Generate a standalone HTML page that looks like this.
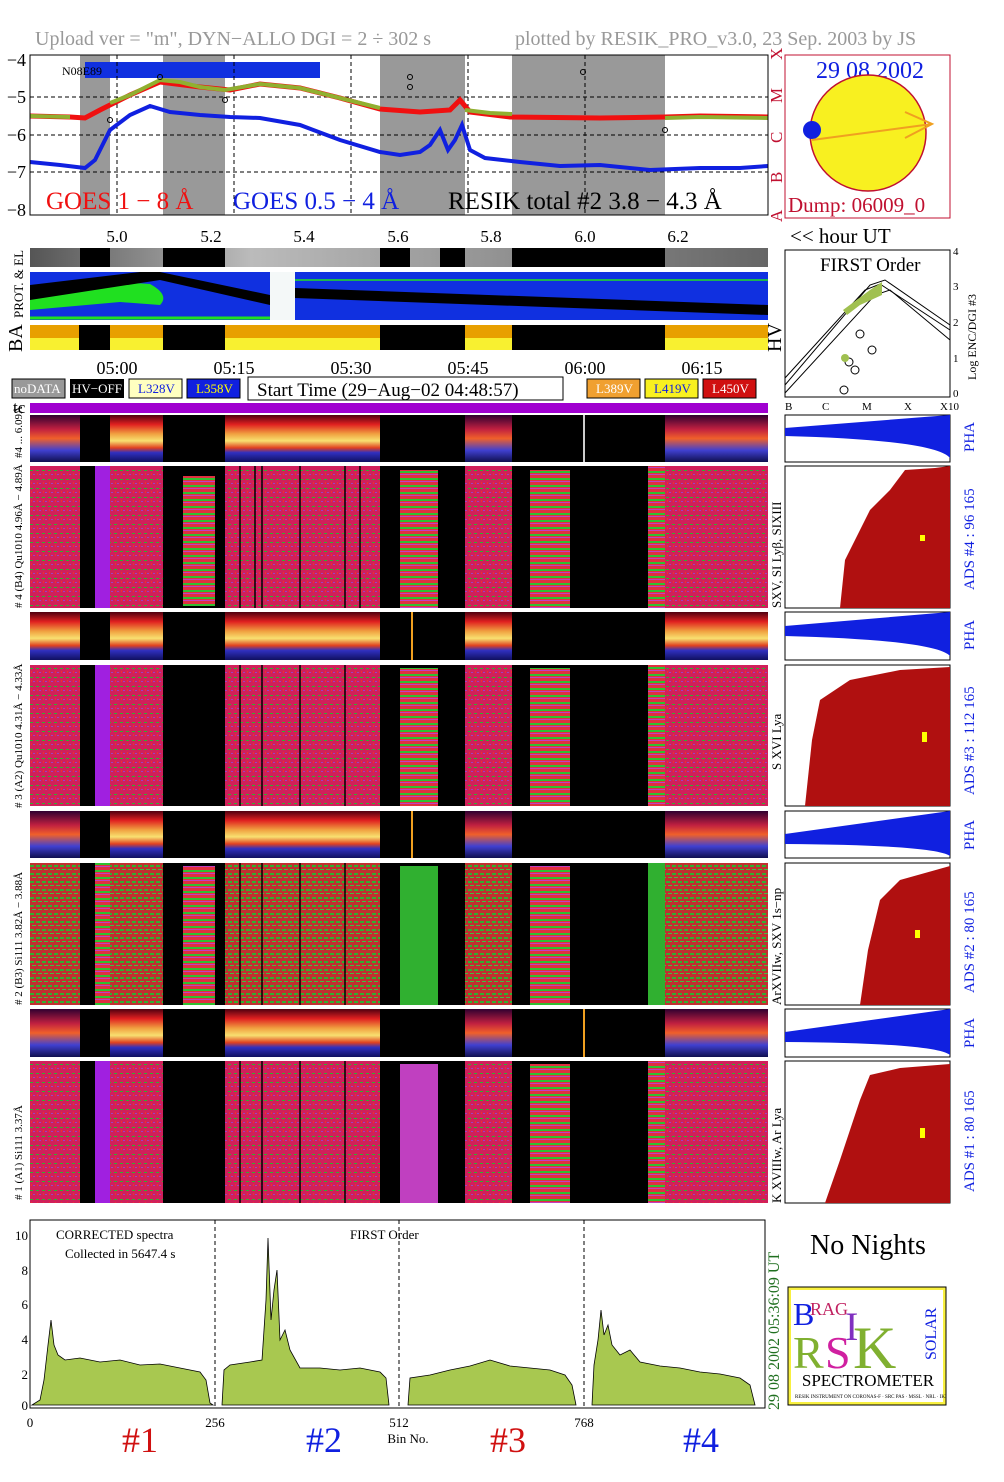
<!DOCTYPE html>
<html><head><meta charset="utf-8"><style>
body{margin:0;background:#fff;}
svg text{font-family:"Liberation Serif",serif;}
</style></head><body>
<svg width="1004" height="1477" viewBox="0 0 1004 1477" xmlns="http://www.w3.org/2000/svg">
<defs>
<linearGradient id="pha" x1="0" y1="0" x2="0" y2="1">
<stop offset="0" stop-color="#500010"/><stop offset="0.2" stop-color="#e02020"/><stop offset="0.4" stop-color="#f0a040"/><stop offset="0.55" stop-color="#f8e070"/><stop offset="0.7" stop-color="#e04020"/><stop offset="0.8" stop-color="#3030c0"/><stop offset="1" stop-color="#101060"/>
</linearGradient>
<linearGradient id="phab" x1="0" y1="0" x2="0" y2="1">
<stop offset="0" stop-color="#300030"/><stop offset="0.3" stop-color="#c02040"/><stop offset="0.5" stop-color="#f0602a"/><stop offset="0.75" stop-color="#4040d0"/><stop offset="1" stop-color="#101050"/>
</linearGradient>
<linearGradient id="gray" x1="0" y1="0" x2="1" y2="0">
<stop offset="0" stop-color="#555"/><stop offset="0.3" stop-color="#bbb"/><stop offset="1" stop-color="#666"/>
</linearGradient>
<pattern id="spec" width="6" height="9" patternUnits="userSpaceOnUse">
<rect width="6" height="9" fill="#d0205a"/><rect x="0" y="2" width="3" height="1" fill="#30b030"/><rect x="3" y="6" width="2" height="1" fill="#a040c0"/><rect x="1" y="5" width="1" height="2" fill="#f03030"/>
</pattern>
<pattern id="specg" width="6" height="8" patternUnits="userSpaceOnUse">
<rect width="6" height="8" fill="#c03030"/><rect x="0" y="1" width="4" height="2" fill="#30b030"/><rect x="2" y="5" width="4" height="1" fill="#40c040"/>
</pattern>
<pattern id="stripe" width="2" height="7" patternUnits="userSpaceOnUse">
<rect width="2" height="7" fill="#e03040"/><rect y="2" width="2" height="2" fill="#30c030"/><rect y="5" width="2" height="1" fill="#c040c0"/>
</pattern>
</defs>
<rect width="1004" height="1477" fill="#fff"/>
<text x="35" y="45" font-size="20" fill="#999">Upload ver = "m", DYN−ALLO DGI =   2 ÷ 302 s</text>
<text x="515" y="45" font-size="20" fill="#999">plotted by RESIK_PRO_v3.0, 23 Sep. 2003 by JS</text>
<g>
<rect x="80" y="55" width="30" height="160" fill="#999"/>
<rect x="163" y="55" width="62" height="160" fill="#999"/>
<rect x="380" y="55" width="85" height="160" fill="#999"/>
<rect x="512" y="55" width="153" height="160" fill="#999"/>
<rect x="85" y="62" width="235" height="16" fill="#1030e0"/>
<text x="62" y="75" font-size="12">N08E89</text>
<g stroke="#000" stroke-dasharray="4,3" stroke-width="1">
<line x1="30" y1="97" x2="768" y2="97"/><line x1="30" y1="135" x2="768" y2="135"/><line x1="30" y1="172" x2="768" y2="172"/>
<line x1="117" y1="55" x2="117" y2="215"/><line x1="351" y1="55" x2="351" y2="215"/><line x1="585" y1="55" x2="585" y2="215"/>
<line x1="234" y1="55" x2="234" y2="215"/><line x1="468" y1="55" x2="468" y2="215"/>
</g>
<polyline fill="none" stroke="#f01010" stroke-width="5" points="30,116 70,117 85,118 100,110 130,95 160,82 200,87 230,90 260,84 300,88 340,98 380,109 420,112 450,110 460,100 470,112 510,117 600,118 665,117 700,116 768,117"/>
<polyline fill="none" stroke="#90b030" stroke-width="4" points="30,116 70,117"/>
<polyline fill="none" stroke="#90b030" stroke-width="4" points="110,103 130,95 160,80 180,82 200,87 225,90 260,84 300,88 340,98 380,108"/>
<polyline fill="none" stroke="#90b030" stroke-width="4" points="465,110 490,113 512,114"/>
<polyline fill="none" stroke="#90b030" stroke-width="4" points="665,118 700,117 768,118"/>
<polyline fill="none" stroke="#1020e0" stroke-width="4" points="30,162 60,165 85,168 95,160 110,130 130,115 150,106 170,112 200,115 230,117 260,118 300,125 340,140 380,152 400,155 420,152 430,145 440,130 448,150 455,140 462,125 470,150 485,158 520,162 560,166 600,165 650,170 700,168 740,168 768,166"/>
<g fill="none" stroke="#000" stroke-width="1"><circle cx="110" cy="120" r="2.5"/><circle cx="160" cy="77" r="2.5"/><circle cx="225" cy="100" r="2.5"/><circle cx="410" cy="77" r="2.5"/><circle cx="410" cy="87" r="2.5"/><circle cx="583" cy="72" r="2.5"/><circle cx="665" cy="130" r="2.5"/></g>
<rect x="30" y="55" width="738" height="160" fill="none" stroke="#000"/>
<g font-size="18" text-anchor="end"><text x="26" y="66">−4</text><text x="26" y="103">−5</text><text x="26" y="141">−6</text><text x="26" y="178">−7</text><text x="26" y="216">−8</text></g>
<text x="46" y="209" font-size="25" fill="#f01010">GOES 1 − 8 Å</text>
<text x="233" y="209" font-size="25" fill="#1020e0">GOES 0.5 − 4 Å</text>
<text x="448" y="209" font-size="25">RESIK total #2  3.8 − 4.3 Å</text>
<g font-size="17" fill="#c01030" transform="translate(782,0)"><text transform="translate(0,60) rotate(-90)">X</text><text transform="translate(0,103) rotate(-90)">M</text><text transform="translate(0,143) rotate(-90)">C</text><text transform="translate(0,183) rotate(-90)">B</text><text transform="translate(0,222) rotate(-90)">A</text></g>
</g>
<g font-size="17" text-anchor="middle"><text x="117" y="242">5.0</text><text x="211" y="242">5.2</text><text x="304" y="242">5.4</text><text x="398" y="242">5.6</text><text x="491" y="242">5.8</text><text x="585" y="242">6.0</text><text x="678" y="242">6.2</text></g>
<rect x="785" y="55" width="165" height="163" fill="none" stroke="#c01030"/>
<text x="870" y="78" font-size="24" fill="#1020e0" text-anchor="middle">29 08 2002</text>
<circle cx="868" cy="133" r="58" fill="#f8f020" stroke="#c01030" stroke-width="1.5"/>
<circle cx="812" cy="130" r="9" fill="#1020e0"/>
<line x1="812" y1="140" x2="932" y2="124" stroke="#f0a020" stroke-width="2"/>
<polyline points="905,112 932,124 905,138" fill="none" stroke="#f0a020" stroke-width="2"/>
<text x="788" y="212" font-size="21" fill="#c01030">Dump: 06009_0</text>
<text x="790" y="243" font-size="21">&lt;&lt; hour UT</text>
<rect x="30" y="248" width="738" height="19" fill="url(#gray)"/>
<g fill="#000"><rect x="80" y="248" width="30" height="19"/><rect x="163" y="248" width="62" height="19"/><rect x="380" y="248" width="30" height="19"/><rect x="440" y="248" width="25" height="19"/><rect x="512" y="248" width="153" height="19"/></g>
<rect x="30" y="272" width="738" height="48" fill="#1030e0"/>
<rect x="270" y="272" width="25" height="48" fill="#f4f8f8"/>
<path d="M30,300 Q60,285 120,282 L150,284 Q170,295 160,305 L120,302 L30,310 Z" fill="#20e020"/>
<polygon points="30,285 140,272 160,272 270,295 270,305 160,280 30,300" fill="#000"/>
<polygon points="295,288 768,305 768,315 295,298" fill="#000"/>
<line x1="295" y1="280" x2="768" y2="280" stroke="#20e020" stroke-width="1.5"/>
<line x1="30" y1="318" x2="270" y2="318" stroke="#20e020" stroke-width="3"/>
<text transform="translate(23,318) rotate(-90)" font-size="13">PROT. &amp; EL</text>
<rect x="30" y="325" width="738" height="13" fill="#e8a000"/><rect x="30" y="338" width="738" height="12" fill="#f8f030"/>
<g fill="#000"><rect x="79" y="325" width="31" height="25"/><rect x="163" y="325" width="62" height="25"/><rect x="380" y="325" width="85" height="25"/><rect x="512" y="325" width="153" height="25"/></g>
<text transform="translate(22,352) rotate(-90)" font-size="20">BA</text>
<text transform="translate(781,352) rotate(-90)" font-size="20">HV</text>
<g font-size="18" text-anchor="middle"><text x="117" y="374">05:00</text><text x="234" y="374">05:15</text><text x="351" y="374">05:30</text><text x="468" y="374">05:45</text><text x="585" y="374">06:00</text><text x="702" y="374">06:15</text></g>
<rect x="12" y="379" width="53" height="19" fill="#999" stroke="#000"/><text x="14" y="393" font-size="13" fill="#fff" font-family="Liberation Sans">noDATA</text>
<rect x="70" y="379" width="54" height="19" fill="#000"/><text x="72" y="393" font-size="13" fill="#fff" font-family="Liberation Sans">HV−OFF</text>
<rect x="129" y="379" width="53" height="19" fill="#ffffc0" stroke="#000"/><text x="138" y="393" font-size="13" fill="#1020e0">L328V</text>
<rect x="187" y="379" width="53" height="19" fill="#1020e0" stroke="#000"/><text x="196" y="393" font-size="13" fill="#ff0">L358V</text>
<rect x="248" y="377" width="315" height="23" fill="#fff" stroke="#000"/><text x="257" y="396" font-size="19">Start Time (29−Aug−02 04:48:57)</text>
<rect x="587" y="379" width="53" height="19" fill="#f0a030" stroke="#000"/><text x="596" y="393" font-size="13" fill="#fff">L389V</text>
<rect x="645" y="379" width="53" height="19" fill="#f8f020" stroke="#000"/><text x="654" y="393" font-size="13" fill="#1020e0">L419V</text>
<rect x="703" y="379" width="53" height="19" fill="#d01010" stroke="#000"/><text x="712" y="393" font-size="13" fill="#fff">L450V</text>
<text x="13" y="413" font-size="17">tc</text>
<rect x="30" y="403" width="738" height="10" fill="#a000d0"/>
<g>
<rect x="30" y="415" width="738" height="47" fill="#000"/>
<rect x="30" y="415" width="50" height="47" fill="url(#phab)"/><rect x="110" y="415" width="53" height="47" fill="url(#pha)"/><rect x="225" y="415" width="155" height="47" fill="url(#pha)"/><rect x="465" y="415" width="47" height="47" fill="url(#phab)"/><rect x="665" y="415" width="103" height="47" fill="url(#phab)"/><rect x="583" y="415" width="2" height="47" fill="#ccc"/>
</g>
<g>
<rect x="30" y="466" width="738" height="142" fill="#000"/>
<rect x="30" y="466" width="50" height="142" fill="url(#spec)"/><rect x="95" y="466" width="15" height="142" fill="#a020e0"/><rect x="110" y="466" width="53" height="142" fill="url(#spec)"/><rect x="183" y="476" width="32" height="130" fill="url(#stripe)"/><rect x="225" y="466" width="155" height="142" fill="url(#spec)"/><rect x="400" y="470" width="38" height="138" fill="url(#stripe)"/><rect x="465" y="466" width="47" height="142" fill="url(#spec)"/><rect x="530" y="470" width="40" height="138" fill="url(#stripe)"/><rect x="648" y="466" width="17" height="142" fill="url(#stripe)"/><rect x="665" y="466" width="103" height="142" fill="url(#spec)"/>
<g stroke="#000" stroke-width="1.5"><line x1="240" y1="466" x2="240" y2="608"/><line x1="255" y1="466" x2="255" y2="608"/><line x1="262" y1="466" x2="262" y2="608"/><line x1="300" y1="466" x2="300" y2="608"/><line x1="345" y1="466" x2="345" y2="608"/><line x1="360" y1="466" x2="360" y2="608"/></g>
</g>
<g>
<rect x="30" y="612" width="738" height="48" fill="#000"/>
<rect x="30" y="612" width="50" height="48" fill="url(#pha)"/><rect x="110" y="612" width="53" height="48" fill="url(#pha)"/><rect x="225" y="612" width="155" height="48" fill="url(#pha)"/><rect x="411" y="612" width="2" height="48" fill="#f0a020"/><rect x="465" y="612" width="47" height="48" fill="url(#pha)"/><rect x="665" y="612" width="103" height="48" fill="url(#pha)"/>
</g>
<g>
<rect x="30" y="665" width="738" height="141" fill="#000"/>
<rect x="30" y="665" width="50" height="141" fill="url(#spec)"/><rect x="95" y="665" width="15" height="141" fill="#a020e0"/><rect x="110" y="665" width="53" height="141" fill="url(#spec)"/><rect x="225" y="665" width="155" height="141" fill="url(#spec)"/><rect x="400" y="668" width="38" height="138" fill="url(#stripe)"/><rect x="465" y="665" width="47" height="141" fill="url(#spec)"/><rect x="530" y="668" width="40" height="138" fill="url(#stripe)"/><rect x="648" y="665" width="17" height="141" fill="url(#stripe)"/><rect x="665" y="665" width="103" height="141" fill="url(#spec)"/>
<g stroke="#000" stroke-width="1.5"><line x1="240" y1="665" x2="240" y2="806"/><line x1="262" y1="665" x2="262" y2="806"/><line x1="300" y1="665" x2="300" y2="806"/><line x1="345" y1="665" x2="345" y2="806"/></g>
</g>
<g>
<rect x="30" y="811" width="738" height="47" fill="#000"/>
<rect x="30" y="811" width="50" height="47" fill="url(#phab)"/><rect x="110" y="811" width="53" height="47" fill="url(#pha)"/><rect x="225" y="811" width="155" height="47" fill="url(#pha)"/><rect x="411" y="811" width="2" height="47" fill="#f0a020"/><rect x="465" y="811" width="47" height="47" fill="url(#phab)"/><rect x="665" y="811" width="103" height="47" fill="url(#phab)"/>
</g>
<g>
<rect x="30" y="863" width="738" height="142" fill="#000"/>
<rect x="30" y="863" width="50" height="142" fill="url(#specg)"/><rect x="95" y="863" width="15" height="142" fill="url(#stripe)"/><rect x="110" y="863" width="53" height="142" fill="url(#specg)"/><rect x="183" y="866" width="32" height="139" fill="url(#stripe)"/><rect x="225" y="863" width="155" height="142" fill="url(#specg)"/><rect x="400" y="866" width="38" height="139" fill="#30b030"/><rect x="465" y="863" width="47" height="142" fill="url(#specg)"/><rect x="530" y="866" width="40" height="139" fill="url(#stripe)"/><rect x="648" y="863" width="17" height="142" fill="#30b030"/><rect x="665" y="863" width="103" height="142" fill="url(#specg)"/>
<g stroke="#000" stroke-width="1.5"><line x1="240" y1="863" x2="240" y2="1005"/><line x1="262" y1="863" x2="262" y2="1005"/><line x1="300" y1="863" x2="300" y2="1005"/><line x1="345" y1="863" x2="345" y2="1005"/></g>
</g>
<g>
<rect x="30" y="1009" width="738" height="48" fill="#000"/>
<rect x="30" y="1009" width="50" height="48" fill="url(#phab)"/><rect x="110" y="1009" width="53" height="48" fill="url(#pha)"/><rect x="225" y="1009" width="155" height="48" fill="url(#pha)"/><rect x="583" y="1009" width="2" height="48" fill="#f0a020"/><rect x="465" y="1009" width="47" height="48" fill="url(#phab)"/><rect x="665" y="1009" width="103" height="48" fill="url(#phab)"/>
</g>
<g>
<rect x="30" y="1061" width="738" height="142" fill="#000"/>
<rect x="30" y="1061" width="50" height="142" fill="url(#spec)"/><rect x="95" y="1061" width="15" height="142" fill="#a020e0"/><rect x="110" y="1061" width="53" height="142" fill="url(#spec)"/><rect x="225" y="1061" width="155" height="142" fill="url(#spec)"/><rect x="400" y="1064" width="38" height="139" fill="#c040c0"/><rect x="465" y="1061" width="47" height="142" fill="url(#spec)"/><rect x="530" y="1064" width="40" height="139" fill="url(#stripe)"/><rect x="648" y="1061" width="17" height="142" fill="url(#stripe)"/><rect x="665" y="1061" width="103" height="142" fill="url(#spec)"/>
<g stroke="#000" stroke-width="1.5"><line x1="240" y1="1061" x2="240" y2="1203"/><line x1="262" y1="1061" x2="262" y2="1203"/><line x1="300" y1="1061" x2="300" y2="1203"/><line x1="345" y1="1061" x2="345" y2="1203"/></g>
</g>
<g font-size="11">
<text transform="translate(22,458) rotate(-90)">#4 ... 6.09Å</text>
<text transform="translate(22,608) rotate(-90)"># 4 (B4) Qu1010 4.96Å − 4.89Å</text>
<text transform="translate(22,808) rotate(-90)"># 3 (A2) Qu1010 4.31Å − 4.33Å</text>
<text transform="translate(22,1005) rotate(-90)"># 2 (B3) Si111 3.82Å − 3.88Å</text>
<text transform="translate(22,1200) rotate(-90)"># 1 (A1) Si111 3.37Å</text>
</g>
<rect x="785" y="250" width="165" height="147" fill="none" stroke="#000"/>
<text x="820" y="271" font-size="19">FIRST Order</text>
<g fill="none" stroke="#000" stroke-width="1">
<polyline points="785,385 870,285 885,280 950,325"/><polyline points="785,378 865,290 880,284 950,330"/><polyline points="785,393 875,295 890,290 950,340"/>
<circle cx="860" cy="334" r="4"/><circle cx="872" cy="350" r="4"/><circle cx="849" cy="362" r="4"/><circle cx="855" cy="370" r="4"/><circle cx="844" cy="390" r="4"/>
</g>
<path d="M843,310 L870,290 L882,282 L882,295 L860,305 L847,315 Z" fill="#a0c050"/>
<circle cx="845" cy="358" r="4" fill="#a0c050"/>
<g font-size="11"><text x="953" y="255">4</text><text x="953" y="290">3</text><text x="953" y="326">2</text><text x="953" y="362">1</text><text x="953" y="397">0</text>
<text x="785" y="410">B</text><text x="822" y="410">C</text><text x="862" y="410">M</text><text x="904" y="410">X</text><text x="940" y="410">X10</text></g>
<text transform="translate(976,380) rotate(-90)" font-size="12">Log ENC/DGI #3</text>
<g>
<rect x="785" y="415" width="165" height="47" fill="#fff" stroke="#000"/>
<path d="M785,428 L950,415 L950,458 Q935,440 785,436 Z" fill="#1020e0"/>
<rect x="785" y="466" width="165" height="142" fill="#fff" stroke="#000"/>
<path d="M840,608 L845,560 L860,530 L870,510 L890,490 L905,470 L935,468 L950,466 L950,608 Z" fill="#b01010"/>
<rect x="920" y="535" width="5" height="6" fill="#ff0"/>
<rect x="785" y="612" width="165" height="48" fill="#fff" stroke="#000"/>
<path d="M785,626 L950,612 L950,656 Q935,640 785,636 Z" fill="#1020e0"/>
<rect x="785" y="665" width="165" height="141" fill="#fff" stroke="#000"/>
<path d="M805,806 L812,740 L820,700 L835,690 L850,680 L900,670 L950,667 L950,806 Z" fill="#b01010"/>
<rect x="922" y="732" width="5" height="10" fill="#ff0"/>
<rect x="785" y="811" width="165" height="47" fill="#fff" stroke="#000"/>
<path d="M785,834 L950,811 L950,856 Q935,845 785,844 Z" fill="#1020e0"/>
<rect x="785" y="863" width="165" height="142" fill="#fff" stroke="#000"/>
<path d="M860,1005 L868,950 L880,900 L900,880 L950,866 L950,1005 Z" fill="#b01010"/>
<rect x="915" y="930" width="5" height="8" fill="#ff0"/>
<rect x="785" y="1009" width="165" height="48" fill="#fff" stroke="#000"/>
<path d="M785,1032 L950,1009 L950,1055 Q935,1043 785,1042 Z" fill="#1020e0"/>
<rect x="785" y="1061" width="165" height="142" fill="#fff" stroke="#000"/>
<path d="M825,1203 L840,1160 L860,1100 L870,1075 L900,1068 L950,1064 L950,1203 Z" fill="#b01010"/>
<rect x="920" y="1128" width="5" height="10" fill="#ff0"/>
</g>
<g font-size="15" fill="#1020e0">
<text transform="translate(974,452) rotate(-90)">PHA</text>
<text transform="translate(974,590) rotate(-90)">ADS #4 :   96 165</text>
<text transform="translate(974,650) rotate(-90)">PHA</text>
<text transform="translate(974,795) rotate(-90)">ADS #3 :   112 165</text>
<text transform="translate(974,850) rotate(-90)">PHA</text>
<text transform="translate(974,993) rotate(-90)">ADS #2 :   80 165</text>
<text transform="translate(974,1048) rotate(-90)">PHA</text>
<text transform="translate(974,1192) rotate(-90)">ADS #1 :   80 165</text>
</g>
<g font-size="13">
<text transform="translate(781,608) rotate(-90)">SXV, SI Lyβ, SIXIII</text>
<text transform="translate(781,770) rotate(-90)">S XVI Lya</text>
<text transform="translate(781,1005) rotate(-90)">ArXVIIw, SXV 1s−np</text>
<text transform="translate(781,1203) rotate(-90)">K XVIIIw, Ar Lya</text>
</g>
<rect x="30" y="1220" width="735" height="188" fill="none" stroke="#000"/>
<g stroke="#000" stroke-dasharray="4,3"><line x1="215" y1="1220" x2="215" y2="1408"/><line x1="399" y1="1220" x2="399" y2="1408"/><line x1="584" y1="1220" x2="584" y2="1408"/></g>
<g fill="#a8c850" stroke="#000" stroke-width="0.8">
<polygon points="32,1405 40,1400 44,1380 48,1345 51,1320 54,1345 58,1355 65,1360 80,1358 100,1362 120,1360 140,1365 160,1364 180,1368 200,1372 206,1380 210,1403 213,1405"/>
<polygon points="222,1405 224,1370 230,1365 250,1362 262,1360 266,1300 268,1238 271,1320 274,1290 277,1270 280,1340 285,1330 290,1350 300,1368 320,1368 340,1370 360,1368 380,1372 386,1378 389,1405"/>
<polygon points="408,1405 410,1378 430,1375 450,1370 470,1366 490,1360 510,1366 530,1368 550,1370 565,1375 572,1385 576,1405"/>
<polygon points="592,1405 594,1365 598,1340 601,1310 604,1335 608,1325 612,1345 620,1355 630,1350 640,1362 660,1366 680,1368 700,1372 720,1374 740,1378 750,1385 755,1405"/>
</g>
<g font-size="13" text-anchor="end"><text x="28" y="1240">10</text><text x="28" y="1275">8</text><text x="28" y="1309">6</text><text x="28" y="1344">4</text><text x="28" y="1379">2</text><text x="28" y="1410">0</text></g>
<text x="56" y="1239" font-size="13">CORRECTED spectra</text>
<text x="65" y="1258" font-size="13">Collected in  5647.4 s</text>
<text x="350" y="1239" font-size="13">FIRST Order</text>
<g font-size="13" text-anchor="middle"><text x="30" y="1427">0</text><text x="215" y="1427">256</text><text x="399" y="1427">512</text><text x="584" y="1427">768</text><text x="408" y="1443">Bin No.</text></g>
<text transform="translate(779,1410) rotate(-90)" font-size="16" fill="#207020">29 08 2002   05:36:09 UT</text>
<g font-size="36"><text x="122" y="1452" fill="#d01010">#1</text><text x="306" y="1452" fill="#1020e0">#2</text><text x="490" y="1452" fill="#d01010">#3</text><text x="683" y="1452" fill="#1020e0">#4</text></g>
<text x="868" y="1254" font-size="28" text-anchor="middle">No Nights</text>
<rect x="788" y="1287" width="158" height="118" fill="#f8f040" stroke="#000"/>
<rect x="791" y="1290" width="152" height="112" fill="#fff"/>
<text x="793" y="1325" font-size="32" fill="#1020e0">B</text>
<text x="810" y="1315" font-size="18" fill="#c02060">RAG</text>
<text x="793" y="1368" font-size="46" fill="#80b030">R</text>
<text x="825" y="1368" font-size="46" fill="#d020a0">S</text>
<text x="853" y="1368" font-size="60" fill="#80b030">K</text>
<text x="845" y="1340" font-size="40" fill="#8030c0">I</text>
<text transform="translate(936,1360) rotate(-90)" font-size="16" fill="#1020e0">SOLAR</text>
<text x="868" y="1386" font-size="17" text-anchor="middle">SPECTROMETER</text>
<rect x="793" y="1390" width="148" height="10" fill="#fff"/>
<text x="795" y="1398" font-size="5">RESIK INSTRUMENT ON CORONAS-F · SRC PAS · MSSL · NRL · IKI</text>
</svg>
</body></html>
